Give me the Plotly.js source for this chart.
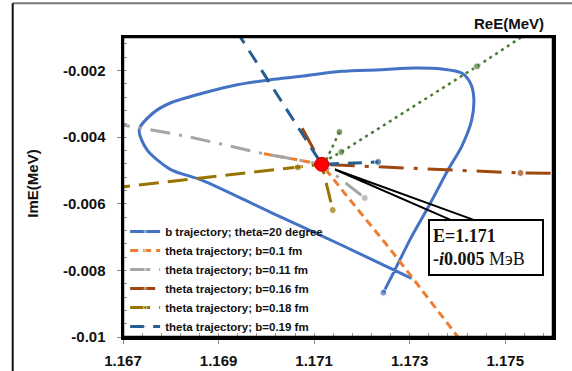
<!DOCTYPE html>
<html><head><meta charset="utf-8">
<script src="https://cdn.plot.ly/plotly-3.0.1.min.js"></script>
<style>html,body{margin:0;padding:0;background:#fff;} #chart{width:572px;height:371px;}</style>
</head><body><div id="chart"></div>
<script>
// ---- data ----
const seriesNames = [
  'b trajectory; theta=20 degree',
  'theta trajectory; b=0.1 fm',
  'theta trajectory; b=0.11 fm',
  'theta trajectory; b=0.16 fm',
  'theta trajectory; b=0.18 fm',
  'theta trajectory; b=0.19 fm'
];
const bLoopRe = [1.17304,1.17157,1.17009,1.16866,1.16799,1.16750,1.16734,1.16763,1.16799,1.16868,1.16939,1.17009,1.17073,1.17157,1.17241,1.17311,1.17367,1.17409,1.17427,1.17434,1.17430,1.17409,1.17381,1.17339,1.17304,1.17269,1.17245];
const bLoopIm = [-0.00824,-0.00724,-0.00626,-0.00530,-0.00497,-0.00438,-0.00378,-0.00328,-0.00298,-0.00268,-0.00243,-0.00228,-0.00218,-0.00203,-0.00198,-0.00193,-0.00196,-0.00208,-0.00238,-0.00278,-0.00348,-0.00428,-0.00497,-0.00610,-0.00699,-0.00799,-0.00867];
const b010Re = [1.16995,1.17116,1.17164,1.17255,1.17304,1.17402,1.17430];
const b010Im = [-0.00450,-0.00482,-0.00569,-0.00729,-0.00819,-0.00999,-0.01054];
const b011Re = [1.16673,1.16834,1.16988,1.17116,1.17167,1.17206];
const b011Im = [-0.00357,-0.00398,-0.00448,-0.00482,-0.00539,-0.00583];
const b016Re = [1.17075,1.17116,1.17532,1.17620];
const b016Im = [-0.00374,-0.00482,-0.00508,-0.00509];
const b018Re = [1.16673,1.17066,1.17116,1.17139];
const b018Im = [-0.00554,-0.00491,-0.00482,-0.00619];
const b019Re = [1.16938,1.17101,1.17116,1.17234];
const b019Im = [-0.00083,-0.00446,-0.00482,-0.00475];
const extraRe = [1.17153,1.17125,1.17157,1.17441,1.17546];
const extraIm = [-0.00385,-0.00470,-0.00445,-0.00188,-0.00089];
const poleRe = [1.17116];
const poleIm = [-0.00482];
const xTickVals = [1.167,1.169,1.171,1.173,1.175];
const xTickText = ['1.167','1.169','1.171','1.173','1.175'];
const yTickVals = [-0.01,-0.008,-0.006,-0.004,-0.002];
const yTickText = ['-0.01','-0.008','-0.006','-0.004','-0.002'];
const xTitle = 'ReE(MeV)';
const yTitle = 'ImE(MeV)';
const noteText = '<b>E=1.171</b><br><b>-<i>i</i>0.005</b> МэВ';

// ---- styling ----
function line(name, xs, ys, color, dash, width, marks, opts) {
  return Object.assign({
    type: 'scatter', mode: 'lines+markers', name: name, x: xs, y: ys,
    line: {color: color, width: width, dash: dash},
    marker: {color: color, size: xs.map((_, i) => marks.indexOf(i) >= 0 ? 7 : 0)},
    hoverinfo: 'x+y+name'
  }, opts || {});
}
const traces = [
  line(seriesNames[0], bLoopRe, bLoopIm, '#4472C4', 'solid', 3, [bLoopRe.length - 1], {line: {color: '#4472C4', width: 3, shape: 'spline', smoothing: 0.8}}),
  line(seriesNames[1], b010Re, b010Im, '#ED7D31', '8px,5px', 3, []),
  line(seriesNames[2], b011Re, b011Im, '#A5A5A5', '20px,9px,3px,9px', 3, [b011Re.length - 1]),
  line(seriesNames[3], b016Re, b016Im, '#9E480E', '25px,10px,4px,10px', 3, [2]),
  line(seriesNames[4], b018Re, b018Im, '#997300', '20px,9px', 3, [1, b018Re.length - 1]),
  line(seriesNames[5], b019Re, b019Im, '#255E91', '14px,9px', 3, [b019Re.length - 1]),
  line('', extraRe, extraIm, '#4B7A32', '3px,4px', 2.5, [0, 2, 3], {showlegend: false}),
  {type: 'scatter', mode: 'markers', x: poleRe, y: poleIm, showlegend: false,
   marker: {color: '#FF0000', size: 14, line: {color: '#D00000', width: 1}}, hoverinfo: 'x+y'}
];

const tickFont = {family: 'Liberation Sans, Arial, sans-serif', size: 15, color: '#111', weight: 'bold'};
const layout = {
  width: 572, height: 371,
  margin: {l: 123, r: 19, t: 37, b: 34},
  paper_bgcolor: '#fff', plot_bgcolor: '#fff',
  showlegend: true,
  xaxis: {
    range: [1.167, 1.176], tickmode: 'array', tickvals: xTickVals, ticktext: xTickText,
    ticks: 'outside', ticklen: 4, tickcolor: '#888', ticklabelstandoff: 4,
    showline: true, mirror: true, linecolor: '#000', linewidth: 2.5,
    showgrid: false, zeroline: false, tickfont: tickFont,
    minor: {tick0: 1.167, dtick: 0.0004, ticks: 'inside', ticklen: 4, tickcolor: '#999', showgrid: false}
  },
  yaxis: {
    range: [-0.01, -0.001], tickmode: 'array', tickvals: yTickVals, ticktext: yTickText,
    ticks: 'outside', ticklen: 4, tickcolor: '#888', ticklabelstandoff: 8,
    showline: true, mirror: true, linecolor: '#000', linewidth: 2.5,
    showgrid: false, zeroline: false, tickfont: tickFont,
    minor: {tick0: -0.01, dtick: 0.0004, ticks: 'inside', ticklen: 4, tickcolor: '#999', showgrid: false}
  },
  legend: {
    x: 0.005, y: 0.40, xanchor: 'left', yanchor: 'top',
    bgcolor: 'rgba(0,0,0,0)', borderwidth: 0, itemwidth: 30,
    font: {family: 'Liberation Sans, Arial, sans-serif', size: 11.5, color: '#111', weight: 'bold'}
  },
  annotations: [
    {text: xTitle, xref: 'paper', yref: 'paper', x: 0.984, y: 1.045, xanchor: 'right', yanchor: 'middle',
     showarrow: false, font: tickFont},
    {text: yTitle, xref: 'paper', yref: 'paper', x: -0.2123, y: 0.51, xanchor: 'center', yanchor: 'middle',
     textangle: -90, showarrow: false, font: tickFont},
    {text: noteText, xref: 'paper', yref: 'paper', x: 0.844, y: 0.30, xanchor: 'center', yanchor: 'middle',
     showarrow: false, align: 'left', valign: 'middle', width: 106, height: 47,
     bgcolor: '#fff', bordercolor: '#000', borderwidth: 2, borderpad: 3,
     font: {family: 'Liberation Serif, DejaVu Serif, serif', size: 18, color: '#111'}}
  ],
  shapes: [
    {type: 'path', xref: 'paper', yref: 'paper', path: 'M 0.7605 0.3913 L 0.493 0.5584 L 0.814 0.3913',
     line: {color: '#000', width: 2}},
    {type: 'rect', xref: 'paper', yref: 'paper', x0: 0, x1: 1, y0: 0, y1: 1,
     line: {color: '#000', width: 2.5}, fillcolor: 'rgba(0,0,0,0)', layer: 'above'},
    {type: 'line', xref: 'paper', yref: 'paper', x0: -0.2565, x1: 1.2, y0: 1.1123, y1: 1.1123,
     line: {color: '#777', width: 2}},
    {type: 'line', xref: 'paper', yref: 'paper', x0: -0.2565, x1: -0.2565, y0: -0.3, y1: 1.1123,
     line: {color: '#111', width: 2}}
  ]
};
Plotly.newPlot('chart', traces, layout, {displayModeBar: false, staticPlot: true});
</script></body></html>
